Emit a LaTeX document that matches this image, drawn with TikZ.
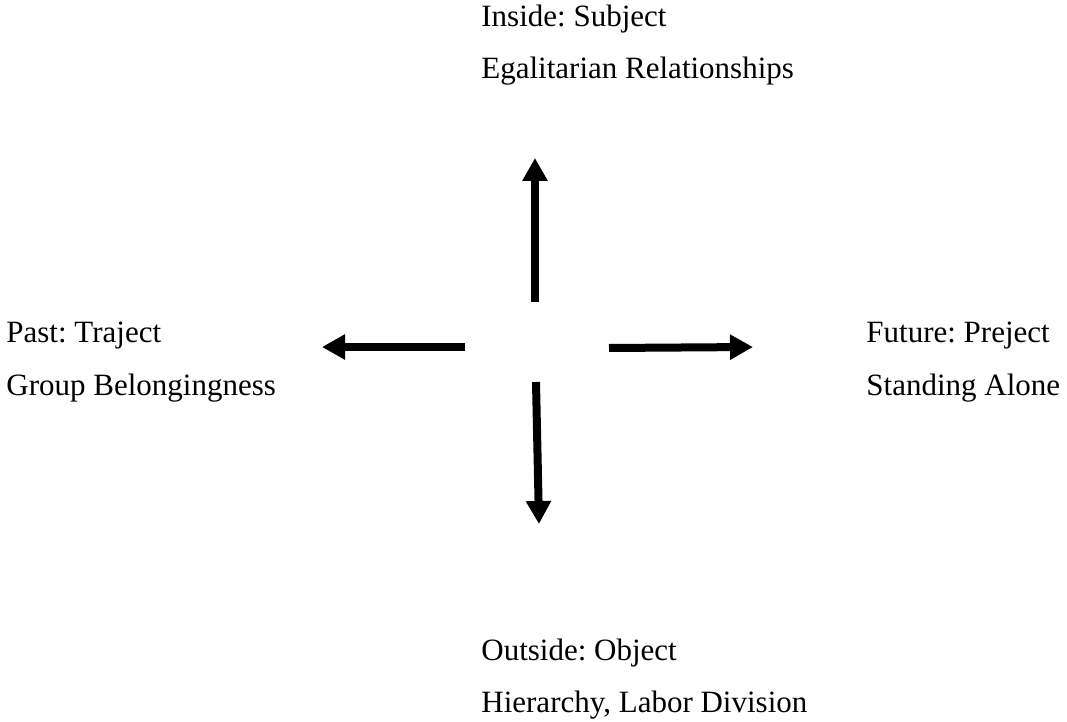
\documentclass[tikz,border=0pt]{standalone}
\usepackage{fontspec}
\setmainfont{Liberation Serif}
\frenchspacing
\usepackage{tikz}
\usetikzlibrary{arrows.meta}

\begin{document}
\begin{tikzpicture}[x=0.5pt, y=-0.5pt,
      lbl/.style={anchor=base west, inner sep=0pt, font=\fontsize{15.5}{26}\selectfont},
      dirarrow/.style={line width=4pt, -{Triangle[length=11.5pt, width=12pt]}},
      >=Stealth]
    \useasboundingbox (0,0) rectangle (1067,722);
    % labels
    \node[lbl] (in1)  at (481,27)  {Inside: Subject};
    \node[lbl] (in2)  at (481,79)  {Egalitarian Relationships};
    \node[lbl] (past1) at (6,343)  {Past: Traject};
    \node[lbl] (past2) at (6,395)  {Group Belongingness};
    \node[lbl] (fut1) at (866,343) {Future: Preject};
    \node[lbl] (fut2) at (866,395) {Standing Alone};
    \node[lbl] (out1) at (481,660) {Outside: Object};
    \node[lbl] (out2) at (481,712) {Hierarchy, Labor Division};
    % arrow ends
    \coordinate (upS) at (535,302);    \coordinate (upE) at (535,158);
    \coordinate (leftS) at (465,347);  \coordinate (leftE) at (322,347);
    \coordinate (rightS) at (609,348); \coordinate (rightE) at (753,347);
    \coordinate (downS) at (536,382);  \coordinate (downE) at (539,524);
    \draw[dirarrow] (upS) -- (upE);
    \draw[dirarrow] (leftS) -- (leftE);
    \draw[dirarrow] (rightS) -- (rightE);
    \draw[dirarrow] (downS) -- (downE);
  \end{tikzpicture}
\end{document}
